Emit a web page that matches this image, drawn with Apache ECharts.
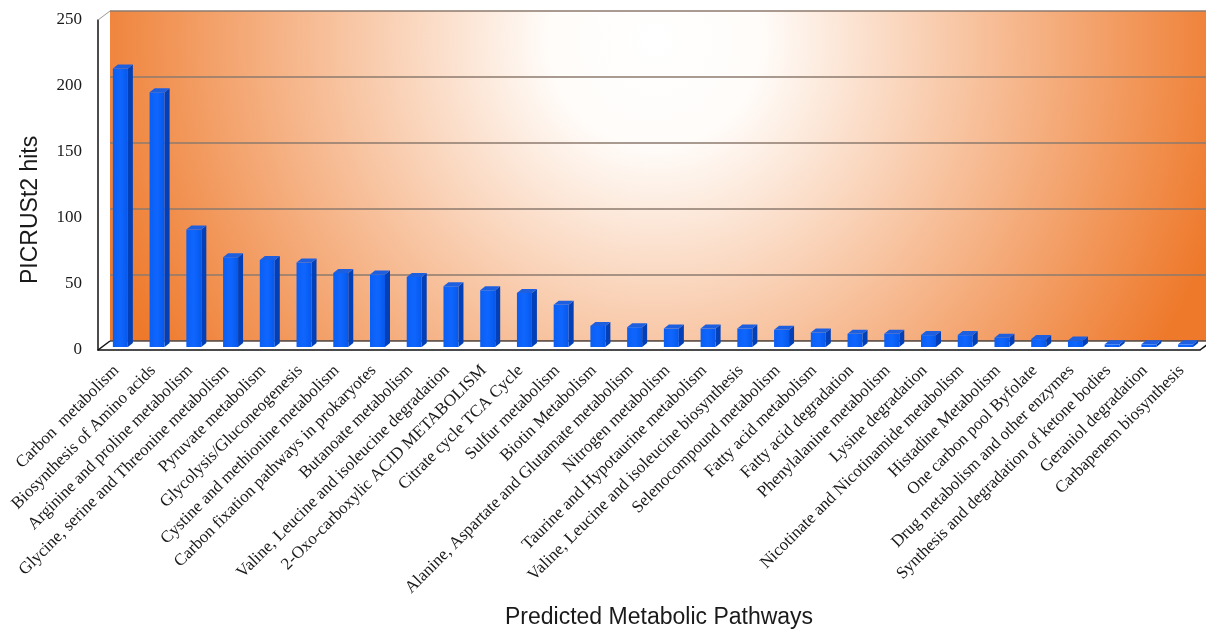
<!DOCTYPE html>
<html>
<head>
<meta charset="utf-8">
<script src="https://cdn.jsdelivr.net/npm/echarts@6/dist/echarts.min.js"></script>
<style>
  html, body { margin: 0; padding: 0; background: #fff; }
  #chart { width: 1206px; height: 629px; }
</style>
</head>
<body>
<div id="chart"></div>
<script>
// Pathway names along the category axis
const pathways = [
  'Carbon  metabolism',
  'Biosynthesis of Amino acids',
  'Arginine and proline metabolism',
  'Glycine, serine and Threonine metabolism',
  'Pyruvate metabolism',
  'Glycolysis/Gluconeogenesis',
  'Cystine and methionine metabolism',
  'Carbon fixation pathways in prokaryotes',
  'Butanoate metabolism',
  'Valine, Leucine and isoleucine degradation',
  '2-Oxo-carboxylic ACID METABOLISM',
  'Citrate cycle TCA Cycle',
  'Sulfur metabolism',
  'Biotin Metabolism',
  'Alanine, Aspartate and Glutamate metabolism',
  'Nitrogen metabolism',
  'Taurine and Hypotaurine metabolism',
  'Valine, Leucine and isoleucine biosynthesis',
  'Selenocompound metabolism',
  'Fatty acid metabolism',
  'Fatty acid degradation',
  'Phenylalanine metabolism',
  'Lysine degradation',
  'Nicotinate and Nicotinamide metabolism',
  'Histadine Metabolism',
  'One carbon pool Byfolate',
  'Drug metabolism and other enzymes',
  'Synthesis and degradation of ketone bodies',
  'Geraniol degradation',
  'Carbapenem biosynthesis'
];

// PICRUSt2 hits per pathway
const hits = [211, 193, 89, 68, 66, 64, 56, 55, 53, 46, 43, 41, 32, 16, 15,
              14, 14, 14, 13, 11, 10, 10, 9, 9, 7, 6, 5, 2, 2, 2];

// Value axis ticks
const yTicks = [0, 50, 100, 150, 200, 250];

// Front plane of the box and the depth offset of the back wall
const FRONT = { left: 98, top: 20, width: 1102, height: 330 };
const DEPTH = { dx: 12, dy: -9 };

const chart = echarts.init(document.getElementById('chart'), null, { renderer: 'canvas' });

// Draws one column as a small box: front face, right side and top
function renderColumn(params, api) {
  const base = api.coord([api.value(0), 0]);
  const top = api.coord([api.value(0), api.value(1)]);
  const offX = 4, offY = -3;      // column sits a little behind the front plane
  const w = 15, sx = 5, sy = -4;  // face width and column depth
  const x0 = base[0] + offX - w / 2;
  const x1 = x0 + w;
  const yb = base[1] + offY;
  const yt = top[1] + offY;
  return {
    type: 'group',
    children: [
      {
        type: 'polygon',
        shape: { points: [[x1, yb], [x1, yt], [x1 + sx, yt + sy], [x1 + sx, yb + sy]] },
        style: { fill: '#0340B8' }
      },
      {
        type: 'rect',
        shape: { x: x0, y: yt, width: w, height: yb - yt },
        style: {
          fill: new echarts.graphic.LinearGradient(0, 0, 1, 0, [
            { offset: 0, color: '#0A5EF2' },
            { offset: 0.5, color: '#0F66FF' },
            { offset: 1, color: '#0658EA' }
          ])
        }
      },
      {
        type: 'polygon',
        shape: { points: [[x0, yt], [x1, yt], [x1 + sx, yt + sy], [x0 + sx, yt + sy]] },
        style: { fill: '#1E5FE0' }
      }
    ]
  };
}

const backLeft = FRONT.left + DEPTH.dx;
const backTop = FRONT.top + DEPTH.dy;
const floorFront = FRONT.top + FRONT.height;
const floorBack = floorFront + DEPTH.dy;
const rightEnd = FRONT.left + FRONT.width;

const option = {
  animation: false,
  backgroundColor: '#ffffff',
  grid: [
    { left: FRONT.left, top: FRONT.top, width: FRONT.width, height: FRONT.height, containLabel: false },
    { left: backLeft, top: backTop, width: FRONT.width, height: FRONT.height, containLabel: false }
  ],
  xAxis: [
    {
      type: 'category',
      gridIndex: 0,
      data: pathways,
      axisLine: { show: true, lineStyle: { color: '#111', width: 1.5 } },
      axisTick: { show: false },
      axisLabel: {
        interval: 0,
        rotate: 45,
        margin: 18,
        fontFamily: 'Liberation Serif',
        fontSize: 17,
        color: '#1a1a1a'
      },
      z: 5
    },
    {
      type: 'category',
      gridIndex: 1,
      data: pathways,
      show: false
    }
  ],
  yAxis: [
    {
      type: 'value',
      gridIndex: 0,
      min: yTicks[0],
      max: yTicks[yTicks.length - 1],
      interval: 50,
      axisLine: { show: true, lineStyle: { color: '#111', width: 1.5 } },
      axisTick: { show: false },
      splitLine: { show: false },
      axisLabel: {
        margin: 16,
        fontFamily: 'Liberation Serif',
        fontSize: 17,
        color: '#1a1a1a'
      },
      z: 5
    },
    {
      type: 'value',
      gridIndex: 1,
      min: yTicks[0],
      max: yTicks[yTicks.length - 1],
      interval: 50,
      axisLine: { show: false },
      axisTick: { show: false },
      axisLabel: { show: false },
      splitLine: { show: true, lineStyle: { color: '#8c7a6e', width: 1.5 } }
    }
  ],
  graphic: [
    // back wall with its orange-to-white shading
    {
      type: 'rect',
      z: -10,
      silent: true,
      shape: { x: backLeft, y: backTop, width: 1206 - backLeft, height: FRONT.height },
      style: {
        fill: new echarts.graphic.RadialGradient(655, 40, 590, [
          { offset: 0, color: '#ffffff' },
          { offset: 0.18, color: '#fffcf9' },
          { offset: 1, color: '#ee792b' }
        ], true)
      }
    },
    // floor of the box
    {
      type: 'polygon',
      z: 1,
      silent: true,
      shape: { points: [[FRONT.left, floorFront], [backLeft, floorBack], [1206, floorBack], [1206, floorFront - 2], [rightEnd, floorFront]] },
      style: { fill: '#ffffff' }
    },
    {
      type: 'polyline',
      z: 1,
      silent: true,
      shape: { points: [[backLeft, floorBack], [1206, floorBack]] },
      style: { stroke: '#5a4a42', lineWidth: 1.5, fill: null }
    },
    // left side edges of the box
    {
      type: 'line',
      z: 6,
      silent: true,
      shape: { x1: FRONT.left, y1: floorFront, x2: backLeft, y2: floorBack },
      style: { stroke: '#111', lineWidth: 1.5 }
    },
    {
      type: 'line',
      z: 6,
      silent: true,
      shape: { x1: FRONT.left, y1: FRONT.top, x2: backLeft, y2: backTop },
      style: { stroke: '#999', lineWidth: 1 }
    },
    {
      type: 'line',
      z: 6,
      silent: true,
      shape: { x1: rightEnd, y1: floorFront, x2: rightEnd + 8, y2: floorFront - 6 },
      style: { stroke: '#111', lineWidth: 1.5 }
    },
    // axis titles
    {
      type: 'text',
      z: 10,
      left: 657 - 152,
      top: 606,
      style: {
        text: 'Predicted Metabolic Pathways',
        font: '23px "Liberation Sans", Arial, sans-serif',
        fill: '#1a1a1a'
      }
    },
    {
      type: 'text',
      z: 10,
      x: 19,
      y: 284,
      rotation: Math.PI / 2,
      style: {
        text: 'PICRUSt2 hits',
        font: '23px "Liberation Sans", Arial, sans-serif',
        fill: '#1a1a1a'
      }
    }
  ],
  series: [
    {
      type: 'custom',
      xAxisIndex: 0,
      yAxisIndex: 0,
      clip: false,
      z: 3,
      renderItem: renderColumn,
      encode: { x: 0, y: 1 },
      data: hits.map((v, i) => [i, v])
    }
  ]
};

chart.setOption(option);
</script>
</body>
</html>
